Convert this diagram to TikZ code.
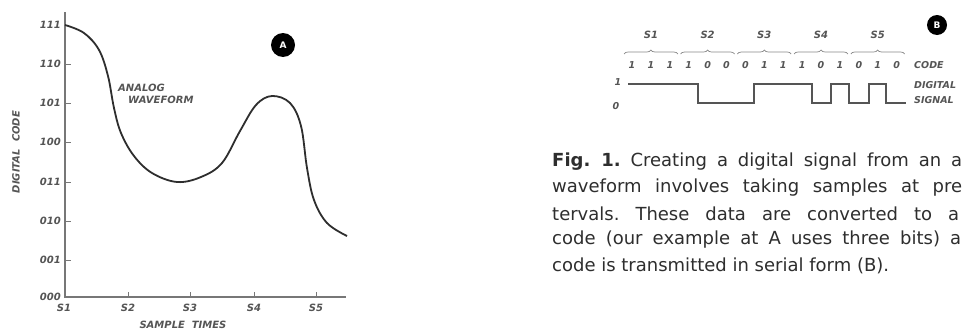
\documentclass[tikz,border=0pt]{standalone}
\usepackage{fontspec}
\setmainfont{DejaVu Sans}
\newfontfamily\letterfont{DejaVu Sans}
\usetikzlibrary{positioning, calc, decorations.pathreplacing}
\definecolor{ink}{HTML}{2E2E2E}
\definecolor{pencil}{HTML}{555555}
\tikzstyle{lettering} = [font=\letterfont\bfseries\itshape\fontsize{10}{11}\selectfont, text=pencil, inner sep=1pt]
\tikzstyle{small} = [font=\letterfont\bfseries\itshape\fontsize{9.5}{10}\selectfont, text=pencil, inner sep=1pt]
\tikzstyle{axisline} = [draw=pencil!80, line width=1.6pt]
\tikzstyle{wave} = [draw=ink, line width=1.8pt]
\tikzstyle{signal} = [draw=pencil, line width=1.1pt]
\tikzstyle{codebrace} = [draw=pencil!70, line width=0.7pt, decorate, decoration={brace, amplitude=4pt}]
\tikzstyle{badge} = [circle, fill=black, text=white, inner sep=0pt, font=\letterfont\bfseries\fontsize{9}{9}\selectfont]
\tikzstyle{captext} = [anchor=west, inner sep=0pt, text=ink, font=\frenchspacing\fontsize{18}{22}\selectfont]

\begin{document}
\begin{tikzpicture}[x=1pt, y=-1pt]
    \clip (0,0) rectangle (965,332);
    \fill[white] (0,0) rectangle (965,332);
    % (A) waveform against the 3-bit code
    \draw[axisline] (65,12) -- (65,297) -- (346,297);
    \foreach \code/\yy in {111/25, 110/64, 101/103, 100/142, 011/182, 010/221, 001/260, 000/297} {
        \node[lettering, anchor=east] (c\code) at (62,\yy) {\code};
    }
    \foreach \yy in {64, 103, 142, 182, 221, 260}
        \draw[axisline, line width=1pt] (65,\yy) -- (71,\yy);
    \foreach \xx in {128, 190, 254, 316}
        \draw[axisline, line width=1pt] (\xx,297) -- (\xx,292);
    \node[lettering] (t1) at (64,308) {S1};
    \node[lettering] (t2) at (128,308) {S2};
    \node[lettering] (t3) at (190,308) {S3};
    \node[lettering] (t4) at (254,308) {S4};
    \node[lettering] (t5) at (316,308) {S5};
    \node[lettering] (xlab) at (183,325) {SAMPLE\ \ TIMES};
    \node[lettering, rotate=90] (ylab) at (16,152) {DIGITAL\ \ CODE};
    \draw[wave] plot[smooth, tension=0.6] coordinates {
        (65,25) (84,33) (99,50) (108,76) (114,108) (121,133) (134,156)
        (152,173) (177,182) (201,177) (222,163) (240,131) (256,105)
        (272,96) (290,103) (301,126) (307,168) (314,200) (327,223) (347,236)};
    \node[lettering, anchor=west] (analog) at (117,88) {ANALOG};
    \node[lettering, anchor=west] (waveform) at (127,100) {WAVEFORM};
    \node[badge, minimum size=24pt] (badgeA) at (283,45) {A};

    % (B) serial code and digital signal
    \foreach \b [count=\i from 0] in {1,1,1,1,0,0,0,1,1,1,0,1,0,1,0}
        \node[small] (bit\i) at ({632+18.9*\i},65) {\b};
    \foreach \lab [count=\k from 0] in {S1,S2,S3,S4,S5} {
        \pgfmathtruncatemacro{\first}{3*\k}
        \pgfmathtruncatemacro{\mbit}{3*\k+1}
        \pgfmathtruncatemacro{\last}{3*\k+2}
        \draw[codebrace] ($(bit\first)+(-8,-11)$) -- ($(bit\last)+(8,-11)$);
        \node[lettering] (s\k) at ($(bit\mbit)+(0,-30)$) {\lab};
    }
    \node[small, anchor=west] (code) at (913,65) {CODE};
    \node[small] (hi) at (618,82) {1};
    \node[small] (lo) at (616,106) {0};
    \coordinate (sigA) at (628,84);
    \coordinate (sigB) at (906,103);
    \draw[signal] (sigA) -| (698,103) -| (754,84) -| (812,103) -| (831,84)
        -| (849,103) -| (869,84) -| (886,103) -- (sigB);
    \node[small, anchor=west] (digital) at (913,85) {DIGITAL};
    \node[small, anchor=west] (sig) at (913,100) {SIGNAL};
    \node[badge, minimum size=20pt] (badgeB) at (937,25) {B};

    % caption
    \node[captext] (cap1) at (552,162) {\makebox[410pt][s]{\textbf{Fig. 1.} Creating a digital signal from an a}};
    \node[captext] (cap2) at (552,188) {\makebox[410pt][s]{waveform involves taking samples at pre}};
    \node[captext] (cap3) at (552,214) {\makebox[407pt][s]{tervals. These data are converted to a}};
    \node[captext] (cap4) at (552,240) {\makebox[409pt][s]{code (our example at A uses three bits) a}};
    \node[captext] (cap5) at (552,266) {code is transmitted in serial form (B).};
\end{tikzpicture}
\end{document}
